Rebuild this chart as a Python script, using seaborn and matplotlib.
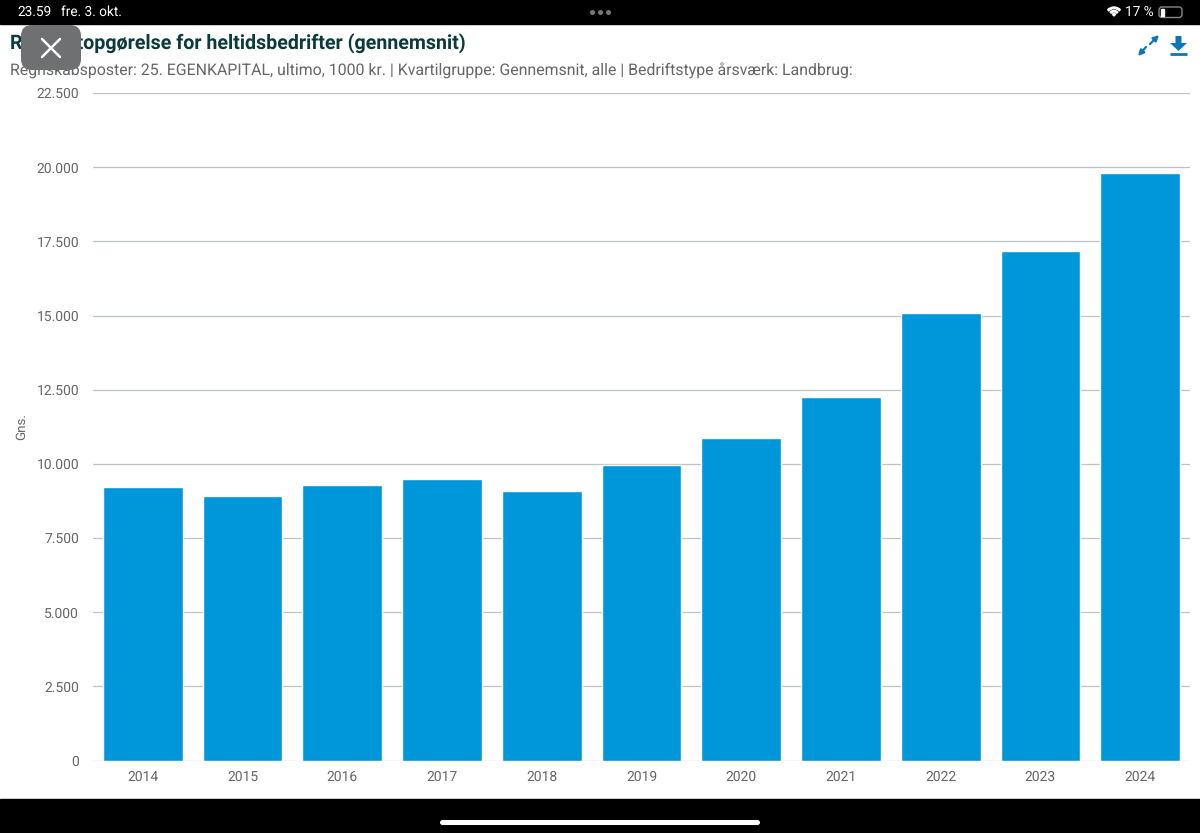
import matplotlib
matplotlib.use("Agg")
import matplotlib.pyplot as plt
from matplotlib.patches import FancyBboxPatch, Polygon, Rectangle, Wedge
import pandas as pd
import seaborn as sns

years = ["2014", "2015", "2016", "2017", "2018", "2019", "2020", "2021", "2022", "2023", "2024"]
egenkapital = [9215, 8900, 9300, 9475, 9070, 9945, 10875, 12250, 15090, 17190, 19790]
y_ticks = [0, 2500, 5000, 7500, 10000, 12500, 15000, 17500, 20000, 22500]
y_labels = ["0", "2.500", "5.000", "7.500", "10.000", "12.500", "15.000", "17.500", "20.000", "22.500"]

title = "Resultatopgørelse for heltidsbedrifter (gennemsnit)"
subtitle = ("Regnskabsposter: 25. EGENKAPITAL, ultimo, 1000 kr. | Kvartilgruppe: Gennemsnit, alle | "
            "Bedriftstype årsværk: Landbrug:")

W, H = 1200, 833

sns.set_theme(style="white")
plt.rcParams["font.family"] = ["Roboto", "DejaVu Sans"]
plt.rcParams["text.hinting"] = "no_hinting"

df = pd.DataFrame({"year": years, "value": egenkapital})

fig = plt.figure(figsize=(W / 100, H / 100), dpi=100, facecolor="white")

# plot area in pixels
ax = fig.add_axes([93 / W, 1 - 760.5 / H, (1190 - 93) / W, (760.5 - 93) / H])
sns.barplot(data=df, x="year", y="value", color="#0097DA", saturation=1, width=0.8, ax=ax, zorder=3)
ax.set_xlim(-0.5, 10.5)
ax.set_ylim(0, 22500)
ax.set_yticks(y_ticks)
ax.set_yticklabels(y_labels)
ax.yaxis.grid(True, color="#BFC3C5", linewidth=0.9)
ax.set_axisbelow(True)
for s in ax.spines.values():
    s.set_visible(False)
ax.tick_params(axis="x", length=0, pad=7, labelsize=10, labelcolor="#666666")
ax.tick_params(axis="y", length=0, pad=10, labelsize=10, labelcolor="#666666")
ax.set_xlabel("")
ax.set_ylabel("Gns.", fontsize=9.6, color="#666666")
ax.yaxis.set_label_coords((28 - 93) / (1190 - 93), 0.5)

# overlay in pixel coordinates for the page and tablet chrome
ov = fig.add_axes([0, 0, 1, 1], facecolor="none")
ov.set_xlim(0, W)
ov.set_ylim(H, 0)
ov.axis("off")

ov.text(10, 43.5, title, fontsize=14.15, fontweight="bold", color="#0B3A3C", va="center")
ov.text(10, 71, subtitle, fontsize=11.45, color="#666666", va="center")

ov.add_patch(Rectangle((0, 0), W, 24, color="black", zorder=5))
ov.add_patch(Rectangle((0, 799), W, 34, color="black", zorder=5))
ov.text(17, 12, "23.59", fontsize=9.8, color="white", va="center", zorder=6)
ov.text(61, 12, "fre. 3. okt.", fontsize=9.8, color="white", va="center", zorder=6)
ov.text(1125, 12, "17 %", fontsize=9.8, color="white", va="center", zorder=6)
ov.plot([592, 600, 608], [12, 12, 12], "o", ms=2.6, color="#777777", zorder=6)

# wifi, battery and home bar
ov.add_patch(Wedge((1114, 16), 9, 225, 315, width=1.6, color="white", zorder=6))
ov.add_patch(Wedge((1114, 16), 5.6, 225, 315, width=1.6, color="white", zorder=6))
ov.add_patch(Wedge((1114, 16), 2.4, 225, 315, color="white", zorder=6))
ov.add_patch(FancyBboxPatch((1159, 7), 23, 10.5, boxstyle="round,pad=0,rounding_size=3",
                            fc="none", ec="#888888", lw=1, zorder=6))
ov.add_patch(Rectangle((1160.5, 8.5), 3, 7.5, color="white", zorder=7))
ov.add_patch(FancyBboxPatch((440, 820), 320, 5, boxstyle="round,pad=0,rounding_size=2.5",
                            fc="white", ec="none", zorder=6))

# close button over the start of the title
ov.add_patch(FancyBboxPatch((21, 25), 60, 45, boxstyle="round,pad=0,rounding_size=11",
                            fc="#6E7072", ec="none", zorder=8))
ov.plot([42, 60], [39, 57], color="white", lw=1.8, zorder=9)
ov.plot([42, 60], [57, 39], color="white", lw=1.8, zorder=9)

# expand and download icons
blue = "#0A77BD"
ov.annotate("", xy=(1138, 56), xytext=(1146, 47),
            arrowprops=dict(arrowstyle="-|>", color=blue, lw=1.6, mutation_scale=8, shrinkA=0, shrinkB=0))
ov.annotate("", xy=(1159, 35), xytext=(1150, 44),
            arrowprops=dict(arrowstyle="-|>", color=blue, lw=1.6, mutation_scale=8, shrinkA=0, shrinkB=0))
ov.add_patch(Polygon([(1175.5, 36), (1181.5, 36), (1181.5, 43), (1187, 43), (1178.5, 51), (1170, 43), (1175.5, 43)],
                     closed=True, color=blue, lw=0))
ov.plot([1170, 1187], [53.5, 53.5], color=blue, lw=2, solid_capstyle="butt")

fig.savefig("out.png", dpi=100)
